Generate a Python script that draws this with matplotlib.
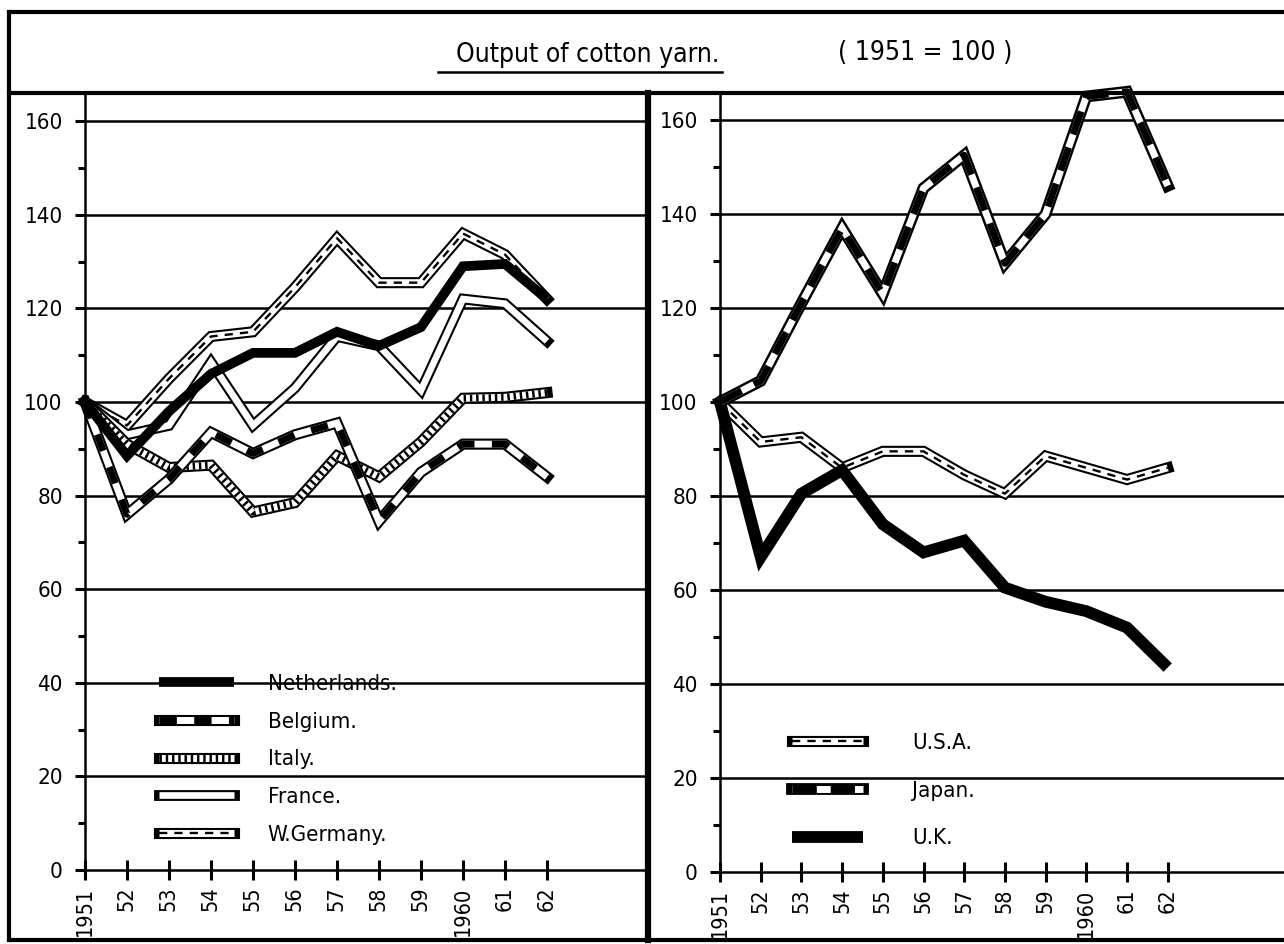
import matplotlib
matplotlib.use("Agg")
import matplotlib.pyplot as plt
from matplotlib.lines import Line2D
from matplotlib.legend_handler import HandlerTuple
from matplotlib.ticker import MultipleLocator, FixedLocator
from matplotlib.font_manager import FontProperties

FONT = ['DejaVu Sans']
STRETCH = 'condensed'
plt.rcParams['font.family'] = FONT
plt.rcParams['font.stretch'] = STRETCH

years = [1951, 1952, 1953, 1954, 1955, 1956, 1957, 1958, 1959, 1960, 1961, 1962]
year_labels = ['1951', '52', '53', '54', '55', '56', '57', '58', '59', '1960', '61', '62']
y_ticks = [0, 20, 40, 60, 80, 100, 120, 140, 160]

netherlands = [100, 88.5, 98, 106, 110.5, 110.5, 115, 112, 116, 129, 129.5, 122]
belgium = [100, 76, 83.5, 93.5, 89, 93, 95.5, 74.5, 85, 91, 91, 84]
italy = [100, 91, 86, 86.5, 76.5, 78.5, 88.5, 84, 91.5, 100.8, 101, 102]
france = [100, 93, 95, 108.5, 95, 103, 114, 112, 102.5, 122, 121, 113]
w_germany = [100, 95, 105, 114, 115, 124.5, 135, 125.5, 125.5, 136, 131.5, 122]

usa = [100, 91.5, 92.5, 86, 89.5, 89.5, 84.5, 80.5, 88.5, 86, 83.5, 86]
japan = [100, 104.5, 121, 137, 123, 145.5, 152.5, 129.5, 140, 165, 166, 146]
uk = [100, 67, 80.5, 85.5, 74, 68, 70.5, 60.5, 57.5, 55.5, 52, 43.5]

title = "Output of cotton yarn."
subtitle = "( 1951 = 100 )"

W, H = 1284, 944
fig = plt.figure(figsize=(W / 100, H / 100), dpi=100)
fig.patch.set_facecolor('white')


def fp(size):
    return FontProperties(family=FONT, stretch=STRETCH, size=size)


def fx(px):
    return px / W


def fy(py):
    return 1 - py / H


def styles(kind):
    k = 'k'
    w = 'white'
    if kind == 'solid':
        return [dict(color=k, lw=7.0, solid_capstyle='butt')]
    if kind == 'solid_uk':
        return [dict(color=k, lw=8.5, solid_capstyle='butt')]
    if kind == 'hollow':
        return [dict(color=k, lw=7.8, solid_capstyle='projecting'),
                dict(color=w, lw=4.8, solid_capstyle='butt')]
    if kind == 'dashed':
        return [dict(color=k, lw=8.0, solid_capstyle='projecting'),
                dict(color=w, lw=5.0, solid_capstyle='butt'),
                dict(color=k, lw=1.7, dashes=(3.5, 3.0), dash_capstyle='butt')]
    if kind == 'blocks':
        return [dict(color=k, lw=8.0, solid_capstyle='projecting'),
                dict(color=w, lw=5.0, solid_capstyle='butt'),
                dict(color=k, lw=5.0, dashes=(2.5, 2.5), dash_capstyle='butt')]
    if kind == 'blocks_jp':
        return [dict(color=k, lw=8.5, solid_capstyle='projecting'),
                dict(color=w, lw=5.0, solid_capstyle='butt'),
                dict(color=k, lw=5.0, dashes=(3.5, 2.0), dash_capstyle='butt')]
    if kind == 'hatch':
        return [dict(color=k, lw=8.0, solid_capstyle='projecting'),
                dict(color=w, lw=5.0, solid_capstyle='butt'),
                dict(color=k, lw=5.0, dashes=(0.35, 0.55), dash_capstyle='butt')]
    return []


def draw(ax, x, y, kind, z):
    for i, st in enumerate(styles(kind)):
        ax.plot(x, y, solid_joinstyle='miter', zorder=z + i * 0.01, clip_on=False, **st)


def handle(kind):
    return tuple(Line2D([], [], solid_joinstyle='miter', **st) for st in styles(kind))


def setup(ax, xmax, ymax):
    ax.set_xlim(1951, xmax)
    ax.set_ylim(0, ymax)
    for s in ['top', 'right']:
        ax.spines[s].set_visible(False)
    for s in ['left', 'bottom']:
        ax.spines[s].set_linewidth(1.8)
        ax.spines[s].set_zorder(5)
    ax.xaxis.set_major_locator(FixedLocator(years))
    ax.set_xticklabels(year_labels, rotation=90, fontproperties=fp(15.5))
    ax.yaxis.set_major_locator(FixedLocator(y_ticks))
    ax.yaxis.set_minor_locator(MultipleLocator(10))
    ax.set_yticklabels([str(v) for v in y_ticks], fontproperties=fp(16))
    ax.tick_params(axis='x', direction='inout', length=14, width=2.2, pad=5)
    ax.tick_params(axis='y', which='major', direction='out', length=7, width=2.2, pad=9)
    ax.tick_params(axis='y', which='minor', direction='out', length=5, width=2.2)
    for v in y_ticks[1:]:
        ax.axhline(v, color='k', lw=1.8, zorder=1)
    ax.set_facecolor('none')


# ---- left panel ----
axL = fig.add_axes([fx(85), fy(870), fx(648 - 85), (870 - 93) / H])
setup(axL, 1951 + (648 - 85) / 42.0, (870 - 93) / 4.68)
draw(axL, years, w_germany, 'dashed', 2.0)
draw(axL, years, france, 'hollow', 2.1)
draw(axL, years, italy, 'hatch', 2.2)
draw(axL, years, belgium, 'blocks', 2.3)
draw(axL, years, netherlands, 'solid', 2.4)

legL = axL.legend(
    [handle('solid'), handle('blocks'), handle('hatch'), handle('hollow'), handle('dashed')],
    ['Netherlands.', 'Belgium.', 'Italy.', 'France.', 'W.Germany.'],
    handler_map={tuple: HandlerTuple(ndivide=1)},
    loc='upper left', bbox_to_anchor=(fx(150 - 85) / fx(648 - 85), (870 - 665) / (870 - 93)),
    frameon=False, handlelength=3.4, handletextpad=1.5, labelspacing=0.8,
    prop=fp(16), borderaxespad=0)
legL.set_zorder(6)

# ---- right panel ----
axR = fig.add_axes([fx(720), fy(872), fx(1284 - 720), (872 - 93) / H])
setup(axR, 1951 + (1284 - 720) / 40.7, (872 - 93) / 4.7)
draw(axR, years, usa, 'dashed', 2.0)
draw(axR, years, uk, 'solid_uk', 2.1)
draw(axR, years, japan, 'blocks_jp', 2.2)

legR = axR.legend(
    [handle('dashed'), handle('blocks_jp'), handle('solid_uk')],
    ['U.S.A.', 'Japan.', 'U.K.'],
    handler_map={tuple: HandlerTuple(ndivide=1)},
    loc='upper left', bbox_to_anchor=((783 - 720) / (1284 - 720), (872 - 724) / (872 - 93)),
    frameon=False, handlelength=3.2, handletextpad=2.2, labelspacing=1.25,
    prop=fp(16), borderaxespad=0)
legR.set_zorder(6)

# ---- frame and title ----
frame_lw = 3.0
fig.add_artist(Line2D([fx(9), fx(9)], [fy(12), fy(940)], color='k', lw=frame_lw))
fig.add_artist(Line2D([fx(9), 1], [fy(12), fy(12)], color='k', lw=frame_lw))
fig.add_artist(Line2D([fx(9), 1], [fy(940), fy(940)], color='k', lw=frame_lw))
fig.add_artist(Line2D([fx(9), 1], [fy(93), fy(93)], color='k', lw=frame_lw))
fig.add_artist(Line2D([fx(648), fx(648)], [fy(93), fy(940)], color='k', lw=4.5))

fig.text(fx(588), fy(55), title, ha='center', va='center', fontproperties=fp(19))
fig.add_artist(Line2D([fx(438), fx(722)], [fy(72), fy(72)], color='k', lw=1.8))
fig.text(fx(925), fy(53), subtitle, ha='center', va='center', fontproperties=fp(19))

fig.savefig('out.png', dpi=100, facecolor='white')
